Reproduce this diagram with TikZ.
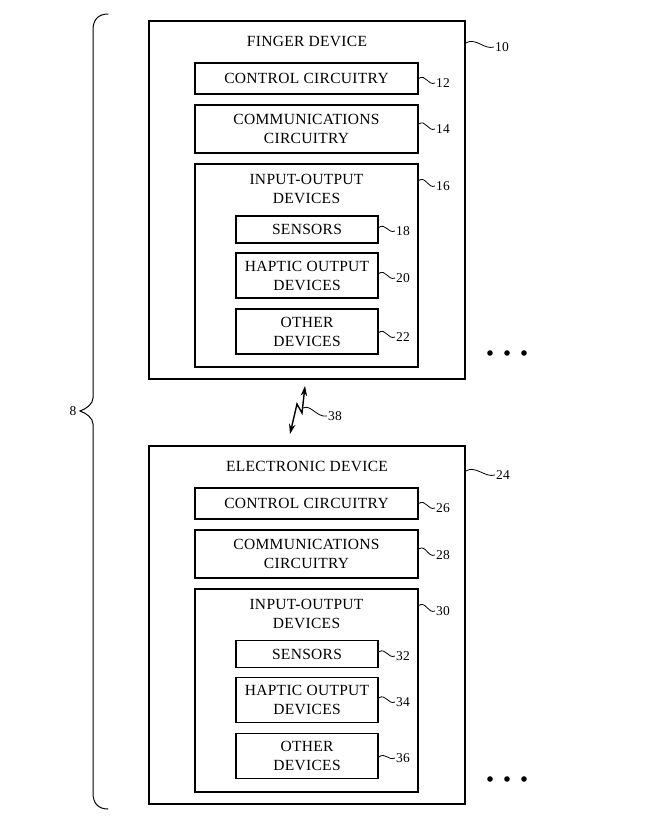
\documentclass[tikz,border=0pt]{standalone}
\usepackage{fontspec}
\setmainfont[LetterSpace=2]{Liberation Serif}
\usetikzlibrary{arrows.meta,positioning}

\begin{document}
\begin{tikzpicture}[x=1pt, y=-1pt,
    devbox/.style={draw, line width=1.4pt, inner sep=0pt, minimum width=316pt, minimum height=358pt},
    wide/.style={draw, line width=1.4pt, inner sep=0pt, minimum width=223pt, align=center, font=\fontsize{15.5}{19}\selectfont},
    narrow/.style={draw, line width=1.4pt, inner sep=0pt, minimum width=142pt, align=center, font=\fontsize{15.5}{19}\selectfont},
    title/.style={align=center, inner sep=0pt, font=\fontsize{15.5}{19}\selectfont},
    num/.style={anchor=west, inner sep=1pt, font=\fontsize{13.5}{13}\selectfont},
    leader/.style={line width=0.8pt},
    bolt/.style={line width=1.4pt, {Stealth[length=10pt,width=6.5pt]}-{Stealth[length=10pt,width=6.5pt]}}
  ]
  \useasboundingbox (0,0) rectangle (645,833);

  % Finger device
  \node[devbox] (fd) at (307,200) {};
  \node[title] (fdtitle) at (307,41) {FINGER DEVICE};
  \node[wide, minimum height=31pt] (fdctl) at (306.5,78.5) {CONTROL CIRCUITRY};
  \node[wide, minimum height=48pt] (fdcom) at (306.5,129) {COMMUNICATIONS\\CIRCUITRY};
  \node[wide, minimum height=203pt] (fdio) at (306.5,265.5) {};
  \node[title] (fdiotitle) at (306.5,189) {INPUT-OUTPUT\\DEVICES};
  \node[narrow, minimum height=27pt] (fdsen) at (307,229.5) {SENSORS};
  \node[narrow, minimum height=45pt] (fdhap) at (307,275.5) {HAPTIC OUTPUT\\DEVICES};
  \node[narrow, minimum height=45pt] (fdoth) at (307,331.5) {OTHER\\DEVICES};

  \node[num] (n10) at (494,47) {10};
  \node[num] (n12) at (435,83) {12};
  \node[num] (n14) at (435,129) {14};
  \node[num] (n16) at (435,186) {16};
  \node[num] (n18) at (395,231) {18};
  \node[num] (n20) at (395,278) {20};
  \node[num] (n22) at (395,337) {22};

  \draw[leader] ([yshift=157pt]fd.east) .. controls +(10,-6) and +(-10,3) .. (n10.west);
  \draw[leader] (fdctl.east) .. controls +(7,-5) and +(-7,3) .. (n12.west);
  \draw[leader] ([yshift=5pt]fdcom.east) .. controls +(7,-5) and +(-7,3) .. (n14.west);
  \draw[leader] ([yshift=85pt]fdio.east) .. controls +(7,-5) and +(-7,3) .. (n16.west);
  \draw[leader] ([yshift=2pt]fdsen.east) .. controls +(7,-5) and +(-7,3) .. (n18.west);
  \draw[leader] ([yshift=2pt]fdhap.east) .. controls +(7,-5) and +(-7,3) .. (n20.west);
  \draw[leader] ([yshift=-1pt]fdoth.east) .. controls +(7,-5) and +(-7,3) .. (n22.west);

  % Electronic device
  \node[devbox] (ed) at (307,625) {};
  \node[title] (edtitle) at (307,466) {ELECTRONIC DEVICE};
  \node[wide, minimum height=31pt] (edctl) at (306.5,503.5) {CONTROL CIRCUITRY};
  \node[wide, minimum height=48pt] (edcom) at (306.5,554) {COMMUNICATIONS\\CIRCUITRY};
  \node[wide, minimum height=203pt] (edio) at (306.5,690.5) {};
  \node[title] (ediotitle) at (306.5,614) {INPUT-OUTPUT\\DEVICES};
  \node[narrow, minimum height=27pt] (edsen) at (307,654) {SENSORS};
  \node[narrow, minimum height=45pt] (edhap) at (307,700) {HAPTIC OUTPUT\\DEVICES};
  \node[narrow, minimum height=45pt] (edoth) at (307,756) {OTHER\\DEVICES};

  \node[num] (n24) at (495,475) {24};
  \node[num] (n26) at (435,508) {26};
  \node[num] (n28) at (435,555) {28};
  \node[num] (n30) at (435,611) {30};
  \node[num] (n32) at (395,656) {32};
  \node[num] (n34) at (395,702) {34};
  \node[num] (n36) at (395,758) {36};

  \draw[leader] ([yshift=154pt]ed.east) .. controls +(10,-6) and +(-10,3) .. (n24.west);
  \draw[leader] (edctl.east) .. controls +(7,-5) and +(-7,3) .. (n26.west);
  \draw[leader] ([yshift=5pt]edcom.east) .. controls +(7,-5) and +(-7,3) .. (n28.west);
  \draw[leader] ([yshift=85pt]edio.east) .. controls +(7,-5) and +(-7,3) .. (n30.west);
  \draw[leader] ([yshift=2pt]edsen.east) .. controls +(7,-5) and +(-7,3) .. (n32.west);
  \draw[leader] ([yshift=2pt]edhap.east) .. controls +(7,-5) and +(-7,3) .. (n34.west);
  \draw[leader] ([yshift=-1pt]edoth.east) .. controls +(7,-5) and +(-7,3) .. (n36.west);

  % More devices
  \foreach \y in {353,779} {
    \foreach \x in {490,507,524} \fill (\x,\y) circle (2.8);
  }

  % Wireless link
  \coordinate (za) at (290,434);
  \coordinate (zb) at (297,404);
  \coordinate (zc) at (302,413);
  \coordinate (zd) at (305,386);
  \coordinate (ze) at (303,408);
  \node[num] (n38) at (327,416) {38};
  \draw[bolt] (za) -- (zb) -- (zc) -- (zd);
  \draw[leader] (ze) .. controls +(8,-4) and +(-10,2) .. (n38.west);

  % System brace
  \node[num, anchor=center] (n8) at (73,411) {8};
  \draw[line width=1pt, line cap=round] (108,14) .. controls (98,14) and (93,20) .. (93,30) -- (93,398)
    .. controls (93,404) and (86,409) .. (80,411) .. controls (86,413) and (93,418) .. (93,424)
    -- (93,793) .. controls (93,803) and (98,809) .. (108,809);
\end{tikzpicture}
\end{document}
